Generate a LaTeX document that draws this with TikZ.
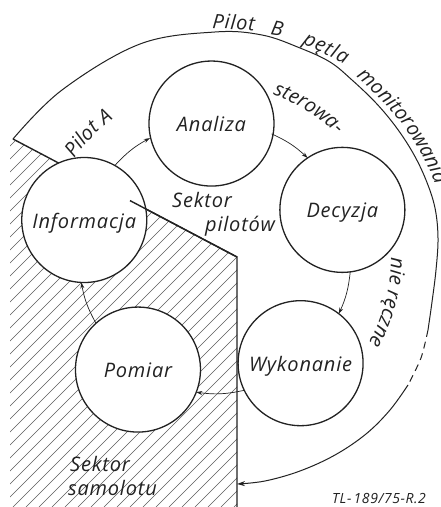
\documentclass[tikz,border=0pt]{standalone}
\usepackage{fontspec}
\newfontfamily\lettering{Open Sans}[LetterSpace=4]
\usetikzlibrary{arrows.meta,decorations.text}
\definecolor{ink}{HTML}{222222}
\definecolor{hatchgray}{HTML}{5c5c5c}
\newcommand\lblfont{\lettering\itshape\fontsize{20}{24}\selectfont}
\newcommand\tagfont{\lettering\itshape\fontsize{14}{17}\selectfont}

\begin{document}
\begin{tikzpicture}[x=1pt,y=1pt,
  stage/.style={circle, draw=ink, line width=1.3pt, fill=white,
    minimum size=125pt, inner sep=0pt, text height=16pt, text depth=0pt,
    font=\lblfont, text=ink},
  lbl/.style={font=\lblfont, text=ink, inner sep=0pt},
  flow/.style={draw=ink, line width=0.7pt, -{Stealth[length=6pt,width=4pt]}},
  hatchline/.style={draw=hatchgray, line width=0.55pt},
  border/.style={draw=ink, line width=1.4pt},
  loopline/.style={draw=ink, line width=1pt},
  arctext/.style={decorate, decoration={text along path, text={|\lblfont\color{ink}|#1}}},
]
\clip (0,0) rectangle (440,507);
\fill[white] (0,0) rectangle (440,507);

% centre of the ring of stages
\coordinate (O) at (215,249.5);

% boundary of the aircraft sector
\coordinate (bL) at (13,368);
\coordinate (bC) at (237,250);
\coordinate (bB) at (237,-2);

% hatching of the aircraft sector
\begin{scope}
  \clip (10,-1) -- (10,369.6) -- (bC) -- (237,-1) -- cycle;
  \foreach \k in {-30,...,19} \draw[hatchline] (\k*13,0) -- ++(520,520);
\end{scope}
\draw[border] (bL) -- (bC) -- (bB);

% the five stages
\path (O) +(164:136)    node[stage] (inf) {Informacja}
          +(91.5:134)   node[stage] (ana) {Analiza}
          +(20.5:136)   node[stage] (dec) {Decyzja}
          +(-51:136)    node[stage] (wyk) {Wykonanie}
          +(-124.5:136) node[stage] (pom) {Pomiar};

% short piece of the boundary running into the Informacja circle
\coordinate (bI) at (130,306.4);
\draw[border] (bI) -- (bC);

% connectors between the stages, along the ring
\path (O) +(137.4:136)  coordinate (ia1) +(118.6:136)  coordinate (ia2)
          +(65.4:136)   coordinate (ad1) +(47.1:136)   coordinate (ad2)
          +(-6.1:136)   coordinate (dw1) +(-24.4:136)  coordinate (dw2)
          +(-77.6:136)  coordinate (wp1) +(-97.9:136)  coordinate (wp2)
          +(-151.1:136) coordinate (pi1) +(-169.4:136) coordinate (pi2);
\draw[flow] (ia1) to[bend left=9.4] (ia2);
\draw[flow] (ad1) to[bend left=9.2] (ad2);
\draw[flow] (dw1) to[bend left=9.2] (dw2);
\draw[flow] (wp1) to[bend left=10]  (wp2);
\draw[flow] (pi1) to[bend left=9.2] (pi2);

% outer monitoring loop of pilot B
\coordinate (lA) at (428,177);
\coordinate (lB) at (408,122);
\coordinate (loopEnd) at (237,23);
\draw[loopline] plot[smooth, tension=0.6] coordinates {(bL) (62,417) (140,463) (215,475)
  (262,472) (300,459) (330,445) (352,427) (376,404) (396,380) (413,354) (426,327)
  (435,299) (438,269) (436,237) (432,205) (lA)};
\draw[loopline, dash pattern=on 7pt off 5pt] plot[smooth] coordinates {(lA) (421,149) (lB)};
\draw[loopline, -{Stealth[length=8pt,width=5pt]}] plot[smooth, tension=0.6]
  coordinates {(lB) (390,97) (366,73) (335,52) (300,36) (265,26) (loopEnd)};

% labels of the loop
\node[lbl, anchor=base west, rotate=-4]  (tPilot) at (212,479)   {Pilot};
\node[lbl, anchor=base west, rotate=-10] (tB)     at (270,472.5) {B};
\node[lbl, anchor=base west, rotate=-26] (tPetla) at (302,464)   {pętla};
\path[arctext={monitorowania}] plot[smooth] coordinates {(356,430) (381,407) (402,383)
  (419,357) (432,331) (442,303) (450,275)};

\path[arctext={Pilot A}] ([shift={(145:172)}]O) arc[start angle=145, end angle=110, radius=172];
\path[arctext={sterowa-}] ([shift={(70.5:173)}]O) arc[start angle=70.5, end angle=30, radius=173];
\path[arctext={nie ręczne}] ([shift={(0:176)}]O) arc[start angle=0, end angle=-45, radius=176];

% sector names
\node[lbl, anchor=base west] (sp1) at (172,299) {Sektor};
\node[lbl, anchor=base west] (sp2) at (205,275) {pilotów};
\node[lbl, anchor=base west] (ss1) at (70,35)   {Sektor};
\node[lbl, anchor=base west] (ss2) at (68,12)   {samolotu};

% drawing number
\node[font=\tagfont, text=ink, inner sep=0pt, anchor=base west] (num) at (332,4) {TL-\,189/75-R.2};
\end{tikzpicture}
\end{document}
